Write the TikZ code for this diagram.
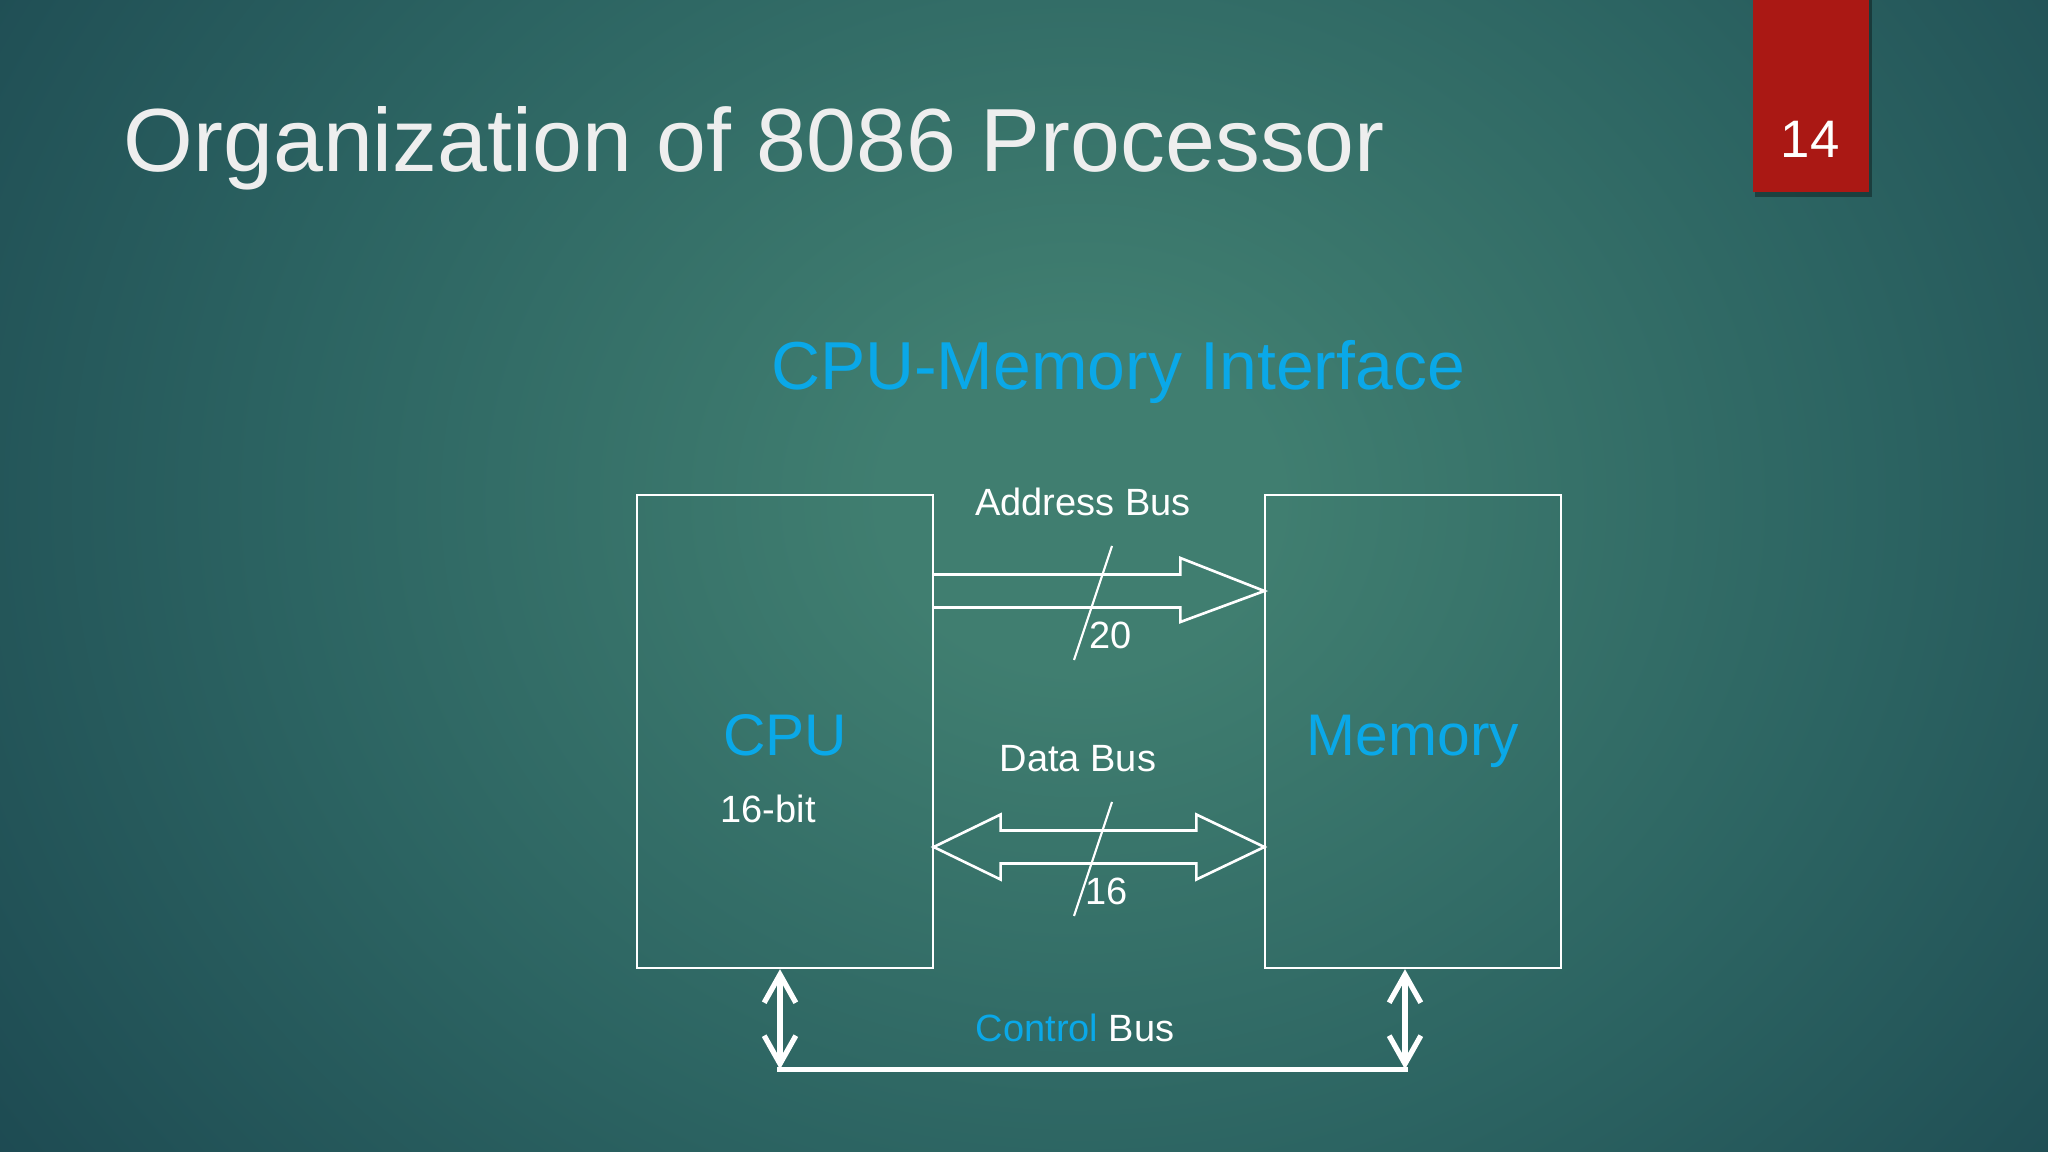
\documentclass[tikz,border=0pt]{standalone}
\usepackage{fontspec}
\setmainfont{Liberation Sans}
\usetikzlibrary{calc,arrows.meta}
\definecolor{bgin}{RGB}{64,126,112}
\definecolor{bgmid}{RGB}{44,100,98}
\definecolor{bgout}{RGB}{20,58,72}
\definecolor{cyanT}{RGB}{10,168,232}
\definecolor{redbox}{RGB}{170,24,20}
\definecolor{titlegray}{RGB}{238,238,238}
\pgfdeclareradialshading{bgshade}{\pgfpoint{0bp}{0bp}}{color(0bp)=(bgin); color(4bp)=(bgin); color(16bp)=(bgmid); color(34bp)=(bgout); color(50bp)=(bgout)}
\tikzset{
 box/.style={draw=white, line width=0.6pt, minimum width=2.95cm, minimum height=4.73cm, inner sep=0},
 busline/.style={draw=white, line width=0.75pt, line join=miter},
 tick/.style={draw=white, line width=0.6pt},
 ctrl/.style={draw=white, line width=1.5pt, line cap=round, {Straight Barb[length=8pt,width=9pt]}-{Straight Barb[length=8pt,width=9pt]}},
 lbl/.style={text=white, font=\fontsize{10.8}{13}\selectfont, inner sep=0, anchor=base},
 big/.style={text=cyanT, font=\fontsize{16.7}{20}\selectfont, inner sep=0, anchor=base},
}
\begin{document}
\begin{tikzpicture}[x=0.01cm, y=-0.01cm]
\useasboundingbox (0,0) rectangle (2048,1152);
\begin{scope}
\clip (0,0) rectangle (2048,1152);
\shade[shading=bgshade] (-150,-560) rectangle (2310,1560);
\end{scope}
% slide number
\fill[black, opacity=0.35] (1755,0) rectangle (1872,197);
\fill[redbox] (1753,0) rectangle (1869,192);
\node[inner sep=0, anchor=base, text=white, font=\fontsize{15}{18}\selectfont] (num) at (1810,158) {14};
% titles
\node[anchor=base west, inner sep=0, text=titlegray, font=\fontsize{25.5}{30}\selectfont] (title) at (123,172) {Organization of 8086 Processor};
\node[inner sep=0, anchor=base, text=cyanT, font=\fontsize{19.3}{23}\selectfont] (sub) at (1118,390) {CPU-Memory Interface};
% boxes
\node[box] (cpu) at (785,731.5) {};
\node[box] (mem) at (1413,731.5) {};
\node[big] (cpulbl) at (785,755) {CPU};
\node[lbl, anchor=base west] (bits) at (720,822) {16-bit};
\node[big] (memlbl) at (1413,755) {Memory};
% address bus
\coordinate (aL) at ($(cpu.east)+(0,-140.5)$);
\coordinate (aR) at ($(mem.west)+(0,-140.5)$);
\draw[busline] ($(aL)+(0,-16.5)$) -- ($(aR)+(-84,-16.5)$) -- ($(aR)+(-84,-33)$) -- (aR) -- ($(aR)+(-84,31)$) -- ($(aR)+(-84,16.5)$) -- ($(aL)+(0,16.5)$);
\coordinate (s1a) at (1112,546);
\coordinate (s1b) at (1074,660);
\draw[tick] (s1a) -- (s1b);
\node[lbl] (ablbl) at (1083,515) {Address Bus};
\node[lbl, anchor=base west] (n20) at (1089,649) {20};
% data bus
\coordinate (dL) at ($(cpu.east)+(0,115.5)$);
\coordinate (dR) at ($(mem.west)+(0,115.5)$);
\draw[busline] (dL) -- ($(dL)+(67,-32.5)$) -- ($(dL)+(67,-16.5)$) -- ($(dR)+(-68,-16.5)$) -- ($(dR)+(-68,-32.5)$) -- (dR) -- ($(dR)+(-68,32.5)$) -- ($(dR)+(-68,16.5)$) -- ($(dL)+(67,16.5)$) -- ($(dL)+(67,32.5)$) -- cycle;
\coordinate (s2a) at (1112,802);
\coordinate (s2b) at (1074,916);
\draw[tick] (s2a) -- (s2b);
\node[lbl] (dblbl) at (1078,771) {Data Bus};
\node[lbl, anchor=base west] (n16) at (1085,904) {16};
% control bus
\coordinate (c1t) at ($(cpu.south)+(-5,0)$);
\coordinate (c2t) at ($(mem.south)+(-8,0)$);
\coordinate (cb1) at ($(cpu.south)+(-5,100)$);
\coordinate (cb2) at ($(mem.south)+(-8,100)$);
\draw[ctrl] (c1t) -- (cb1);
\draw[ctrl] (c2t) -- (cb2);
\draw[white, line width=1.5pt] ($(cb1)+(-3,0)$) -- ($(cb2)+(3,0)$);
\node[lbl] (cblbl) at (1075,1041) {\textcolor{cyanT}{Control} Bus};
\end{tikzpicture}
\end{document}
